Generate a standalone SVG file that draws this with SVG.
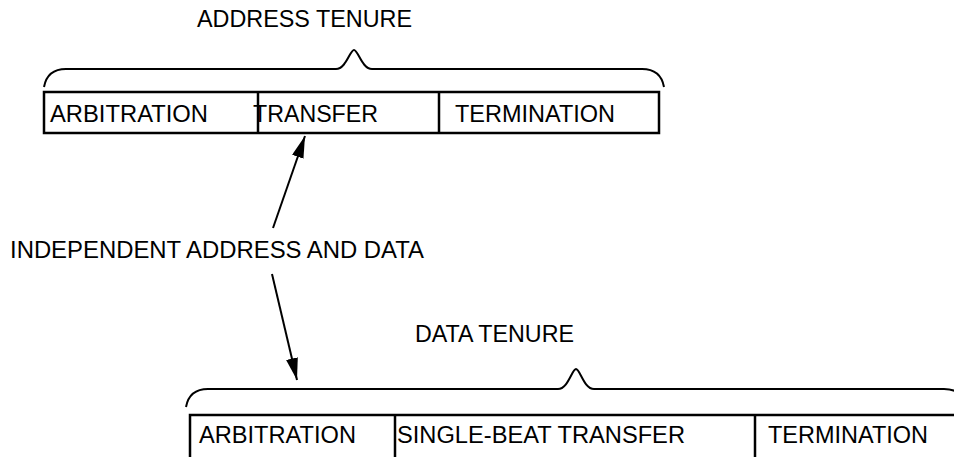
<svg xmlns="http://www.w3.org/2000/svg" width="954" height="457" viewBox="0 0 954 457">
<style>
text{font-family:"Liberation Sans",Arial,sans-serif;font-size:23.5px;fill:#000}
.box{fill:none;stroke:#000;stroke-width:2.5}
.brace{fill:none;stroke:#000;stroke-width:2}
.conn{fill:none;stroke:#000;stroke-width:2}
</style>
<defs>
<marker id="ah" viewBox="0 0 22 12" refX="22" refY="6" markerWidth="22" markerHeight="12" markerUnits="userSpaceOnUse" orient="auto">
<path d="M0,0 L22,6 L0,12 Z" fill="#000"/>
</marker>
</defs>
<g id="address-tenure">
<text x="197" y="27" textLength="215" lengthAdjust="spacingAndGlyphs">ADDRESS TENURE</text>
<path class="brace" d="M44,87 C46,76 52,69 66,69 L336,69 C346,69 350,50 354,50 C358,50 362,69 372,69 L642,69 C656,69 662,76 664,87"/>
<rect class="box" x="44" y="92" width="615" height="41"/>
<line class="box" x1="258" y1="92" x2="258" y2="133"/>
<line class="box" x1="439" y1="92" x2="439" y2="133"/>
<text x="50" y="122" textLength="158" lengthAdjust="spacingAndGlyphs">ARBITRATION</text>
<text x="253" y="122" textLength="125" lengthAdjust="spacingAndGlyphs">TRANSFER</text>
<text x="455" y="122" textLength="160" lengthAdjust="spacingAndGlyphs">TERMINATION</text>
</g>
<g id="independent-label">
<text x="10" y="258" textLength="414" lengthAdjust="spacingAndGlyphs">INDEPENDENT ADDRESS AND DATA</text>
</g>
<g id="data-tenure">
<text x="415" y="342" textLength="159" lengthAdjust="spacingAndGlyphs">DATA TENURE</text>
<path class="brace" d="M186,407 C188,396 194,389 208,389 L558,389 C568,389 572,369 576,369 C580,369 584,389 594,389 L944,389 C958,389 964,396 966,407"/>
<rect class="box" x="190" y="415" width="790" height="60"/>
<line class="box" x1="395" y1="415" x2="395" y2="457"/>
<line class="box" x1="755" y1="415" x2="755" y2="457"/>
<text x="199" y="443" textLength="157" lengthAdjust="spacingAndGlyphs">ARBITRATION</text>
<text x="397" y="443" textLength="288" lengthAdjust="spacingAndGlyphs">SINGLE-BEAT TRANSFER</text>
<text x="768" y="443" textLength="160" lengthAdjust="spacingAndGlyphs">TERMINATION</text>
</g>
<g id="connectors">
<line class="conn" x1="273" y1="228" x2="305" y2="136" marker-end="url(#ah)"/>
<line class="conn" x1="272" y1="274" x2="297" y2="380" marker-end="url(#ah)"/>
</g>
</svg>
